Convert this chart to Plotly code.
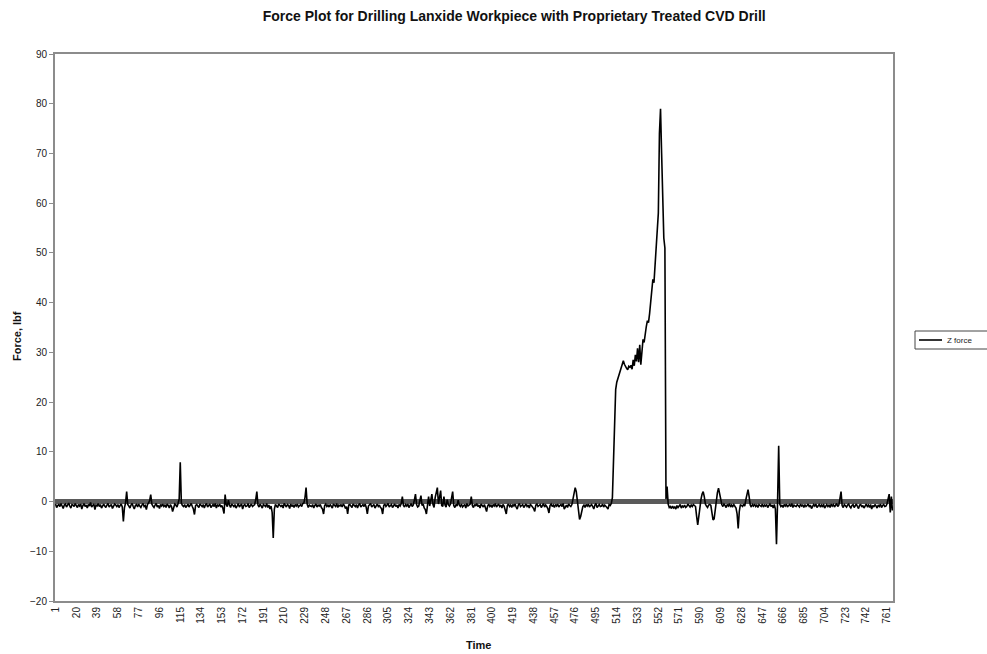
import plotly.graph_objects as go

# Z force readings (lbf), one per time sample starting at sample 1
z_force = [
    -0.5, -1.2, -0.8, -0.6, -1.0, -0.4, -0.9, -1.4, -0.7, -0.5, -1.1, -0.8, -0.3, -0.9, -1.3, -0.6, -0.7, -1.0, -0.4, -0.8,
    -1.2, -0.6, -0.9, -0.5, -1.5, -0.8, -0.4, -1.0, -0.7, -1.3, -0.6, -0.9, -0.2, -1.1, -0.8, -0.5, -1.6, -0.7, -0.9, -0.4,
    -1.0, -0.6, -1.3, -0.8, -0.5, -0.9, -1.2, -0.7, -0.4, -1.1, -0.8, -0.6, -1.4, -0.9, -0.5, -0.7, -1.0, -0.6, -1.2, -0.8,
    -0.5, -1.1, -4.0, -1.2, -0.3, 2.0, -0.6, -0.9, -1.3, -0.7, -0.4, -1.0, -1.5, -0.8, -0.6, -1.1, -0.5, -0.9, -1.2, -0.7,
    -0.4, -1.0, -0.8, -1.6, -0.6, -0.3, 0.2, 1.4, -0.5, -0.9, -1.2, -0.7, -0.4, -1.1, -0.8, -1.4, -0.6, -0.9, -0.5, -1.0,
    -0.7, -1.2, -0.5, -0.8, -1.3, -0.6, -1.0, -2.0, -0.9, -0.5, -0.7, -1.1, -0.4, 0.5, 7.9, -0.3, -0.8, -1.0, -0.6, -1.2,
    -0.9, -0.5, -1.1, -0.7, -0.4, -1.0, -1.5, -2.6, -0.8, -0.6, -0.9, -1.2, -0.5, -0.8, -1.0, -0.6, -1.3, -0.7, -0.4, -1.1,
    -0.8, -0.5, -1.2, -0.9, -0.6, -1.0, -0.4, -1.3, -0.7, -0.9, -0.5, -1.1, -0.8, -1.4, -2.4, 1.4, -0.6, -1.0, 0.3, -0.7,
    -1.2, -0.5, -0.8, -1.0, -0.6, -1.3, -0.9, -0.4, -1.1, -0.7, -0.5, -1.5, -0.8, -0.6, -1.0, -0.9, -0.4, -1.2, -0.7, -0.5,
    -1.0, -0.8, -0.6, 0.4, 2.0, -0.7, -1.1, -0.5, -0.9, -1.3, -0.6, -0.8, -1.0, -0.4, -1.2, -0.7, -1.5, -0.9, -2.2, -7.3,
    -1.5, -0.6, -0.9, -1.2, -0.5, -0.8, -1.0, -0.7, -1.3, -0.4, -0.9, -1.1, -0.6, -0.8, -1.4, -0.5, -1.0, -0.7, -1.2, -0.6,
    -0.9, -0.5, -1.1, -0.8, -0.6, -1.0, -0.4, -0.3, 0.8, 2.8, -0.5, -1.2, -0.7, -0.9, -1.0, -0.6, -1.3, -0.8, -0.5, -1.1,
    -0.7, -0.9, -0.6, -1.2, -1.5, -2.5, -0.8, -0.5, -1.0, -0.7, -1.1, -0.6, -0.9, -1.3, -0.5, -0.8, -1.0, -0.4, -1.2, -0.7,
    -0.9, -0.6, -1.1, -0.5, -0.8, -1.4, -1.0, -2.5, -0.7, -0.6, -0.9, -1.2, -0.5, -0.8, -1.0, -0.6, -1.3, -0.7, -0.4, -1.1,
    -0.8, -0.6, -1.0, -0.5, -1.2, -2.5, -0.9, -0.7, -0.4, -1.1, -0.8, -0.6, -1.3, -0.9, -0.5, -1.0, -0.7, -1.2, -1.4, -2.5,
    -0.8, -0.5, -1.0, -0.7, -0.4, -1.1, -0.9, -0.6, -1.2, -0.8, -0.5, -1.0, -0.7, -1.3, -0.6, -0.9, -0.4, 1.0, -0.8, -1.1,
    -0.6, -0.9, -0.5, -1.2, -0.8, -0.4, -1.0, -0.7, 0.3, 1.5, -0.6, -1.1, -0.9, 0.2, 1.2, -0.8, -0.5, -1.3, -1.6, -2.5,
    -0.7, 1.0, -0.9, 0.5, 1.5, -0.6, -1.2, 0.8, 1.8, 2.8, -0.5, 0.6, 2.2, -0.8, -1.0, 1.0, -0.7, -1.1, 0.4, -0.6,
    -0.9, -0.5, 0.6, 2.0, -0.8, -1.2, -0.6, -0.9, 0.3, -0.7, -1.0, -0.5, -1.1, -0.8, -0.6, -1.3, -0.4, -0.9, -0.7, -0.5,
    1.0, -0.8, -1.2, -0.6, -0.9, -0.4, -1.0, -0.7, -1.3, -0.5, -0.8, -1.1, -0.6, -1.4, -2.0, -0.9, -0.5, -1.0, -0.7, -1.2,
    -0.6, -0.9, -0.4, -1.1, -0.8, -0.5, -1.0, -0.7, -1.3, -0.6, -0.9, -1.5, -2.5, -0.8, -0.5, -1.0, -0.7, -1.2, -0.6, -0.9,
    -0.5, -1.1, -1.5, -0.7, -0.4, -1.0, -0.8, -0.6, -1.2, -0.9, -0.5, -1.0, -0.7, -1.3, -0.6, -0.8, -1.1, -1.4, -2.0, -0.7,
    -0.5, -1.0, -0.8, -0.6, -1.2, -0.9, -0.4, -1.1, -0.7, -1.0, -1.4, -2.3, -0.8, -0.5, -1.0, -0.7, -1.2, -0.6, -0.9, -0.5,
    -1.1, -0.8, -0.6, -1.0, -0.4, -1.5, -0.9, -0.7, -1.2, -0.5, -0.8, -1.0, -0.6, 0.5, 1.8, 2.8, 2.0, 0.0, -2.0, -3.6,
    -3.0, -1.5, -1.0, -0.7, -1.2, -0.6, -0.9, -0.5, -1.1, -0.8, -0.6, -1.0, -1.5, -0.7, -0.4, -1.2, -0.8, -0.6, -1.0, -0.9,
    -0.5, -1.1, -0.7, -0.9, -1.2, -1.5, -0.6, -0.8, -0.4, 0.8, 10.0, 19.0, 22.5, 24.0, 24.7, 25.5, 26.3, 27.2, 27.8, 28.3,
    27.6, 27.1, 26.8, 26.5, 27.2, 27.0, 27.4, 26.6, 28.5, 27.3, 29.5, 28.2, 30.8, 28.0, 31.5, 27.5, 30.5, 32.6, 32.0, 34.0,
    35.2, 36.4, 36.0, 37.8, 40.5, 43.0, 44.7, 44.0, 47.5, 51.4, 53.0, 58.0, 74.0, 79.0, 70.0, 61.0, 53.0, 51.0, 0.5, 3.0,
    -0.5, -1.2, -1.0, -1.4, -0.9, -1.3, -1.1, -1.5, -0.8, -1.2, -1.0, -0.6, -1.3, -0.9, -1.1, -0.7, -1.2, -1.0, -0.5, -0.8,
    -1.1, -0.7, -1.0, -0.6, -0.9, -1.0, -3.0, -4.7, -3.0, -1.0, 0.5, 1.5, 2.0, 1.0, -0.5, -0.9, -1.2, -0.7, -0.6, -0.8,
    -2.0, -3.7, -3.5, -1.5, 0.5, 1.8, 2.7, 1.6, 0.3, -0.6, -1.0, -0.5, -0.8, -1.2, -0.6, -0.9, -0.4, -1.1, -0.7, -1.0,
    -0.6, -0.9, -1.3, -2.5, -5.4, -2.0, -0.6, -0.8, -1.0, -0.5, -0.9, 0.4, 1.5, 2.4, 1.0, -0.7, -1.1, -0.6, -0.9, -0.5,
    -1.0, -0.7, -1.2, -0.6, -0.8, -1.0, -0.5, -1.1, -0.7, -0.9, -0.6, -1.2, -0.8, -0.5, -1.0, -0.7, -1.3, -0.6, -1.5, -8.6,
    0.0, 11.2, -0.5, -1.0, -0.7, -1.2, -0.6, -0.9, -0.5, -1.1, -0.8, -0.6, -1.0, -0.4, -1.2, -0.7, -0.9, -1.0, -0.6, -0.8,
    -1.1, -0.5, -0.9, -0.7, -1.2, -0.6, -1.0, -0.8, -0.5, -1.1, -0.7, -1.4, -1.0, -0.6, -0.9, -0.5, -1.2, -0.8, -0.6, -1.0,
    -0.7, -1.1, -0.5, -1.3, -0.8, -0.6, -1.0, -0.7, -1.2, -0.5, -0.9, -0.6, -1.1, -0.8, -0.4, -1.0, -0.7, 0.6, 2.0, -0.8,
    -1.2, -0.6, -0.9, -1.1, -0.7, -0.5, -1.0, -1.3, -0.8, -0.6, -1.2, -0.9, -0.5, -1.0, -1.4, -0.7, -0.6, -1.1, -0.8, -1.3,
    -0.9, -0.5, -1.0, -0.7, -1.2, -0.6, -1.5, -0.8, -1.1, -0.6, -0.9, -1.3, -0.7, -1.0, -0.5, -1.2, -0.8, -0.6, -1.0, -0.9,
    -0.5, 0.4, 1.5, -2.2, 1.0, -1.8,
]

# Sample numbers shown on the time axis
time_ticks = [1, 20, 39, 58, 77, 96, 115, 134, 153, 172, 191, 210, 229, 248, 267, 286,
              305, 324, 343, 362, 381, 400, 419, 438, 457, 476, 495, 514, 533, 552, 571,
              590, 609, 628, 647, 666, 685, 704, 723, 742, 761]

# Force axis ticks
force_ticks = [-20, -10, 0, 10, 20, 30, 40, 50, 60, 70, 80, 90]

series_name = "Z force"
samples = list(range(1, len(z_force) + 1))

FONT = "Liberation Sans, Arial, sans-serif"
AXIS_GRAY = "#8c8c8c"
W, H = 987, 654
ML, MR, MT, MB = 55, 94, 54, 53
PLOT_W = W - ML - MR
PLOT_H = H - MT - MB


def px_to_paper_x(px):
    return (px - ML) / PLOT_W


def px_to_paper_y(py):
    return (H - MB - py) / PLOT_H


fig = go.Figure()
fig.add_trace(go.Scatter(
    x=samples,
    y=z_force,
    mode="lines",
    name=series_name,
    showlegend=False,
    line=dict(color="#000000", width=1.6),
))

# Legend box at the right edge, drawn with shapes so it can run off the page
leg_top, leg_bot = 331, 349
leg_left, leg_right = 915, 1000
leg_mid = (leg_top + leg_bot) / 2
shapes = [
    dict(type="rect", xref="paper", yref="paper",
         x0=px_to_paper_x(leg_left), x1=px_to_paper_x(leg_right),
         y0=px_to_paper_y(leg_bot), y1=px_to_paper_y(leg_top),
         line=dict(color="#444444", width=1), fillcolor="#ffffff"),
    dict(type="line", xref="paper", yref="paper",
         x0=px_to_paper_x(919), x1=px_to_paper_x(942),
         y0=px_to_paper_y(leg_mid), y1=px_to_paper_y(leg_mid),
         line=dict(color="#000000", width=1.6)),
]

fig.update_layout(
    width=W,
    height=H,
    paper_bgcolor="#ffffff",
    plot_bgcolor="#ffffff",
    margin=dict(l=ML, r=MR, t=MT, b=MB, autoexpand=False),
    font=dict(family=FONT, size=10, color="#222222"),
    title=dict(
        text="<b>Force Plot for Drilling Lanxide Workpiece with Proprietary Treated CVD Drill</b>",
        x=0.521, xanchor="center", y=0.975, yanchor="middle",
        font=dict(family=FONT, size=14, color="#111111"),
    ),
    showlegend=False,
    xaxis=dict(
        range=[0.5, len(z_force) + 0.5],
        tickmode="array",
        tickvals=time_ticks,
        ticktext=[str(t) for t in time_ticks],
        tickangle=-90,
        ticks="",
        showgrid=False,
        zeroline=False,
        showline=True,
        mirror=True,
        linecolor=AXIS_GRAY,
        linewidth=2,
        tickfont=dict(family=FONT, size=10, color="#222222"),
    ),
    yaxis=dict(
        range=[-20, 90],
        tickmode="array",
        tickvals=force_ticks,
        ticks="outside",
        ticklen=4,
        tickcolor=AXIS_GRAY,
        showgrid=False,
        zeroline=True,
        zerolinecolor="#5a5a5a",
        zerolinewidth=5,
        showline=True,
        mirror=True,
        linecolor=AXIS_GRAY,
        linewidth=2,
        tickfont=dict(family=FONT, size=10, color="#222222"),
    ),
    shapes=shapes,
    annotations=[
        dict(text="<b>Force, lbf</b>", xref="paper", yref="paper",
             x=px_to_paper_x(17), y=px_to_paper_y(336), xanchor="center", yanchor="middle",
             textangle=-90, showarrow=False,
             font=dict(family=FONT, size=11, color="#111111")),
        dict(text="<b>Time</b>", xref="paper", yref="paper",
             x=px_to_paper_x(478), y=px_to_paper_y(645), xanchor="center", yanchor="middle",
             showarrow=False,
             font=dict(family=FONT, size=11, color="#111111")),
        dict(text=series_name, xref="paper", yref="paper",
             x=px_to_paper_x(945), y=px_to_paper_y(leg_mid), xanchor="left", yanchor="middle",
             showarrow=False,
             font=dict(family=FONT, size=8, color="#222222")),
    ],
)

fig.write_html("out.html")
